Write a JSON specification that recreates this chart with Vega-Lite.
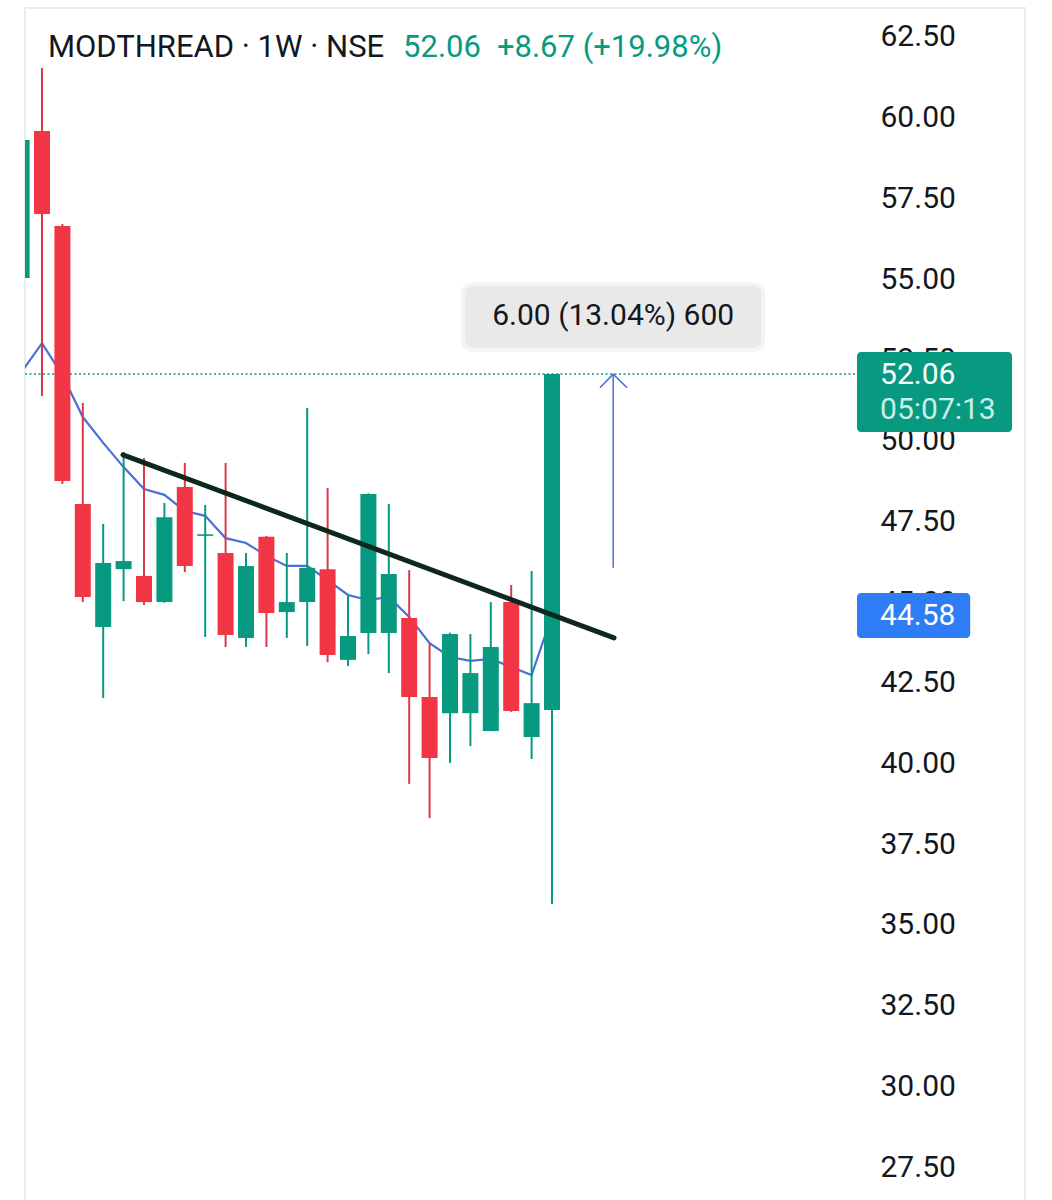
{
  "$schema": "https://vega.github.io/schema/vega-lite/v6.json",
  "width": 1000,
  "height": 1200,
  "autosize": {"type": "none"},
  "padding": {"left": 25, "top": 8, "right": 27, "bottom": 0},
  "background": "#ffffff",
  "config": {"view": {"stroke": "#ececec", "strokeWidth": 2}, "font": "Roboto"},
  "datasets": {
    "candles": [
      {"i": 0, "o": 55.04, "h": 59.4, "l": 55.0, "c": 59.31},
      {"i": 1, "o": 59.59, "h": 61.54, "l": 51.38, "c": 57.02},
      {"i": 2, "o": 56.65, "h": 56.71, "l": 48.66, "c": 48.75},
      {"i": 3, "o": 48.04, "h": 51.17, "l": 45.0, "c": 45.16},
      {"i": 4, "o": 44.23, "h": 47.42, "l": 42.03, "c": 46.21},
      {"i": 5, "o": 46.02, "h": 49.65, "l": 45.03, "c": 46.27},
      {"i": 6, "o": 45.81, "h": 49.46, "l": 44.91, "c": 45.0},
      {"i": 7, "o": 45.0, "h": 48.07, "l": 44.98, "c": 47.63},
      {"i": 8, "o": 48.56, "h": 49.31, "l": 45.93, "c": 46.12},
      {"i": 9, "o": 47.05, "h": 48.01, "l": 43.92, "c": 47.1},
      {"i": 10, "o": 46.52, "h": 49.31, "l": 43.61, "c": 43.98},
      {"i": 11, "o": 43.89, "h": 46.52, "l": 43.61, "c": 46.12},
      {"i": 12, "o": 47.02, "h": 47.05, "l": 43.61, "c": 44.66},
      {"i": 13, "o": 44.69, "h": 46.52, "l": 43.89, "c": 45.0},
      {"i": 14, "o": 45.0, "h": 51.01, "l": 43.64, "c": 46.06},
      {"i": 15, "o": 46.02, "h": 48.53, "l": 43.14, "c": 43.36},
      {"i": 16, "o": 43.21, "h": 45.22, "l": 43.02, "c": 43.95},
      {"i": 17, "o": 44.04, "h": 48.37, "l": 43.39, "c": 48.35},
      {"i": 18, "o": 44.04, "h": 48.04, "l": 42.8, "c": 45.87},
      {"i": 19, "o": 44.51, "h": 45.99, "l": 39.37, "c": 42.06},
      {"i": 20, "o": 42.06, "h": 43.73, "l": 38.31, "c": 40.17},
      {"i": 21, "o": 41.56, "h": 44.05, "l": 40.02, "c": 44.01},
      {"i": 22, "o": 41.56, "h": 44.01, "l": 40.54, "c": 42.8},
      {"i": 23, "o": 41.01, "h": 45.0, "l": 41.0, "c": 43.61},
      {"i": 24, "o": 45.0, "h": 45.53, "l": 41.6, "c": 41.63},
      {"i": 25, "o": 40.82, "h": 45.96, "l": 40.14, "c": 41.87},
      {"i": 26, "o": 41.66, "h": 52.06, "l": 35.65, "c": 52.06}
    ],
    "ma": [
      {"i": 0, "v": 52.13}, {"i": 1, "v": 53.02}, {"i": 2, "v": 52.03}, {"i": 3, "v": 50.73},
      {"i": 4, "v": 49.93}, {"i": 5, "v": 49.18}, {"i": 6, "v": 48.5}, {"i": 7, "v": 48.32},
      {"i": 8, "v": 47.82}, {"i": 9, "v": 47.67}, {"i": 10, "v": 46.98}, {"i": 11, "v": 46.83},
      {"i": 12, "v": 46.43}, {"i": 13, "v": 46.12}, {"i": 14, "v": 46.12}, {"i": 15, "v": 45.68},
      {"i": 16, "v": 45.22}, {"i": 17, "v": 45.06}, {"i": 18, "v": 45.16}, {"i": 19, "v": 44.54},
      {"i": 20, "v": 43.73}, {"i": 21, "v": 43.3}, {"i": 22, "v": 43.18}, {"i": 23, "v": 43.24},
      {"i": 24, "v": 42.99}, {"i": 25, "v": 42.74}, {"i": 26, "v": 44.58}
    ]
  },
  "layer": [
    {
      "data": {"values": [{"i": 0.1667, "i2": 40.95, "v": 52.06}]},
      "mark": {"type": "rule", "color": "#089981", "strokeWidth": 1.5, "strokeDash": [2, 2.5], "clip": true},
      "encoding": {
        "x": {"field": "i", "type": "quantitative", "axis": null, "scale": {"domain": [0.1667, 49.186], "nice": false, "zero": false}},
        "x2": {"field": "i2"},
        "y": {"field": "v", "type": "quantitative", "title": null,
          "scale": {"domain": [26.235, 63.398], "nice": false, "zero": false},
          "axis": {"orient": "right", "offset": -145, "values": [27.5, 30, 32.5, 35, 37.5, 40, 42.5, 45, 47.5, 50, 52.5, 55, 57.5, 60, 62.5],
            "format": ".2f", "labelFontSize": 30, "labelFont": "Roboto", "labelColor": "#131722", "ticks": false, "tickSize": 0,
            "domain": false, "grid": false, "labelPadding": 0, "labelOverlap": false, "labelBound": false, "labelFlush": false}}
      }
    },
    {
      "data": {"name": "ma"},
      "mark": {"type": "line", "color": "#4a6fd9", "strokeWidth": 2.2, "clip": true},
      "encoding": {
        "x": {"field": "i", "type": "quantitative", "axis": null},
        "y": {"field": "v", "type": "quantitative", "title": null}
      }
    },
    {
      "data": {"name": "candles"},
      "mark": {"type": "rule", "strokeWidth": 2, "clip": true},
      "encoding": {
        "x": {"field": "i", "type": "quantitative", "axis": null},
        "y": {"field": "l", "type": "quantitative", "title": null},
        "y2": {"field": "h"},
        "color": {"condition": {"test": "datum.c >= datum.o", "value": "#089981"}, "value": "#d83a4b"}
      }
    },
    {
      "data": {"name": "candles"},
      "mark": {"type": "rule", "strokeWidth": 16, "clip": true},
      "encoding": {
        "x": {"field": "i", "type": "quantitative", "axis": null},
        "y": {"field": "o", "type": "quantitative", "title": null},
        "y2": {"field": "c"},
        "color": {"condition": {"test": "datum.c >= datum.o", "value": "#089981"}, "value": "#F23645"}
      }
    },
    {
      "data": {"values": [{"i": 4.97, "v": 49.56}, {"i": 29.04, "v": 43.89}]},
      "mark": {"type": "line", "color": "#0e2820", "strokeWidth": 5, "strokeCap": "round", "clip": true},
      "encoding": {
        "x": {"field": "i", "type": "quantitative", "axis": null},
        "y": {"field": "v", "type": "quantitative", "title": null}
      }
    },
    {
      "data": {"values": [{"i": 29.0, "v": 46.06, "v2": 52.06}]},
      "mark": {"type": "rule", "color": "#4a6fd9", "strokeWidth": 1.5},
      "encoding": {
        "x": {"field": "i", "type": "quantitative", "axis": null},
        "y": {"field": "v", "type": "quantitative", "title": null},
        "y2": {"field": "v2"}
      }
    },
    {
      "data": {"values": [{"i": 28.35, "v": 51.64}, {"i": 29.0, "v": 52.06}, {"i": 29.68, "v": 51.64}]},
      "mark": {"type": "line", "color": "#4a6fd9", "strokeWidth": 1.5},
      "encoding": {
        "x": {"field": "i", "type": "quantitative", "axis": null},
        "y": {"field": "v", "type": "quantitative", "title": null}
      }
    },
    {
      "data": {"values": [{"i": 21.55, "i2": 36.45, "v": 54.9, "v2": 52.75}]},
      "mark": {"type": "rect", "color": "#f4f4f4", "cornerRadius": 10},
      "encoding": {
        "x": {"field": "i", "type": "quantitative", "axis": null},
        "x2": {"field": "i2"},
        "y": {"field": "v", "type": "quantitative", "title": null},
        "y2": {"field": "v2"}
      }
    },
    {
      "data": {"values": [{"i": 21.75, "i2": 36.25, "v": 54.8, "v2": 52.88}]},
      "mark": {"type": "rect", "color": "#e9e9e9", "cornerRadius": 8},
      "encoding": {
        "x": {"field": "i", "type": "quantitative", "axis": null},
        "x2": {"field": "i2"},
        "y": {"field": "v", "type": "quantitative", "title": null},
        "y2": {"field": "v2"}
      }
    },
    {
      "data": {"values": [{"i": 29.0, "v": 53.86, "t": "6.00 (13.04%) 600"}]},
      "mark": {"type": "text", "fontSize": 30, "font": "Roboto", "color": "#131722", "align": "center", "baseline": "middle"},
      "encoding": {
        "x": {"field": "i", "type": "quantitative", "axis": null},
        "y": {"field": "v", "type": "quantitative", "title": null},
        "text": {"field": "t"}
      }
    },
    {
      "data": {"values": [{"i": 40.95, "i2": 48.55, "v": 52.745, "v2": 50.267, "k": "last"}, {"i": 40.95, "i2": 46.5, "v": 45.28, "v2": 43.89, "k": "ma"}]},
      "mark": {"type": "rect", "cornerRadius": 4},
      "encoding": {
        "x": {"field": "i", "type": "quantitative", "axis": null},
        "x2": {"field": "i2"},
        "y": {"field": "v", "type": "quantitative", "title": null},
        "y2": {"field": "v2"},
        "color": {"condition": {"test": "datum.k === 'last'", "value": "#089981"}, "value": "#2e7cf6"}
      }
    },
    {
      "data": {"values": [{"i": 42.08, "v": 52.03, "t": "52.06"}, {"i": 42.08, "v": 44.58, "t": "44.58"}]},
      "mark": {"type": "text", "fontSize": 30, "font": "Roboto", "color": "#ffffff", "align": "left", "baseline": "middle"},
      "encoding": {
        "x": {"field": "i", "type": "quantitative", "axis": null},
        "y": {"field": "v", "type": "quantitative", "title": null},
        "text": {"field": "t"}
      }
    },
    {
      "data": {"values": [{"i": 42.08, "v": 50.95, "t": "05:07:13"}]},
      "mark": {"type": "text", "fontSize": 30, "font": "Roboto", "color": "#c8f0e4", "align": "left", "baseline": "middle"},
      "encoding": {
        "x": {"field": "i", "type": "quantitative", "axis": null},
        "y": {"field": "v", "type": "quantitative", "title": null},
        "text": {"field": "t"}
      }
    },
    {
      "data": {"values": [{"i": 1.29, "v": 62.16, "t": "MODTHREAD · 1W · NSE"}]},
      "mark": {"type": "text", "fontSize": 31, "font": "Roboto", "color": "#131722", "align": "left", "baseline": "middle"},
      "encoding": {
        "x": {"field": "i", "type": "quantitative", "axis": null},
        "y": {"field": "v", "type": "quantitative", "title": null},
        "text": {"field": "t"}
      }
    },
    {
      "data": {"values": [{"i": 18.7, "v": 62.16, "t": "52.06"}, {"i": 23.3, "v": 62.16, "t": "+8.67 (+19.98%)"}]},
      "mark": {"type": "text", "fontSize": 31, "font": "Roboto", "color": "#089981", "align": "left", "baseline": "middle"},
      "encoding": {
        "x": {"field": "i", "type": "quantitative", "axis": null},
        "y": {"field": "v", "type": "quantitative", "title": null},
        "text": {"field": "t"}
      }
    }
  ]
}
